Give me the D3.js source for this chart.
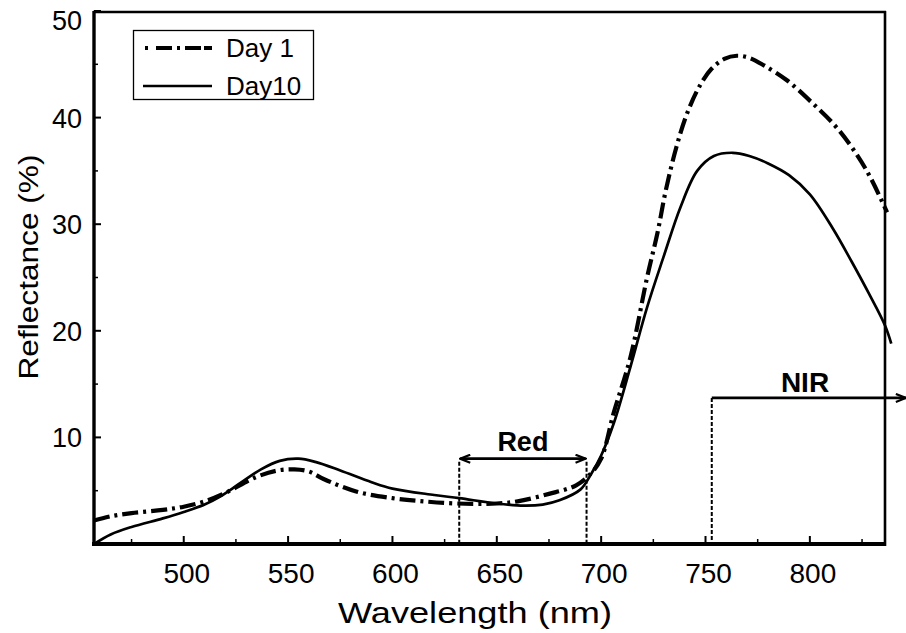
<!DOCTYPE html>
<html>
<head>
<meta charset="utf-8">
<script src="https://cdn.jsdelivr.net/npm/d3@7"></script>
<style>
  body { margin: 0; background: #fff; }
  text { font-family: "Liberation Sans", Arial, sans-serif; fill: #000; }
</style>
</head>
<body>
<svg id="chart" width="906" height="633"></svg>
<script>
// reflectance spectra: [wavelength nm, reflectance %]
const day1 = [
  [457, 2.2], [465, 2.6], [475, 2.9], [490, 3.2], [500, 3.5], [510, 4.0],
  [520, 4.8], [535, 6.3], [545, 6.9], [553, 7.0], [560, 6.8], [567, 6.1],
  [583, 4.9], [600, 4.3], [615, 4.0], [631, 3.8], [650, 3.8], [660, 4.0],
  [675, 4.7], [688, 5.5], [695, 6.6], [700, 8.0], [706, 12.3], [714, 17.5],
  [722, 25.0], [727, 29.2], [731, 33.2], [736, 37.2], [741, 40.3], [747, 42.9],
  [753, 44.6], [759, 45.5], [765, 45.8], [771, 45.6], [778, 44.9], [789, 43.5],
  [801, 41.4], [814, 38.8], [827, 35.1], [837, 31.1]
]
const day10 = [
  [457, 0.0], [465, 0.9], [475, 1.6], [490, 2.4], [500, 3.0], [510, 3.7],
  [517, 4.4], [527, 5.7], [537, 7.0], [546, 7.8], [555, 8.0], [563, 7.7],
  [575, 6.9], [590, 5.8], [600, 5.2], [620, 4.6], [632, 4.3], [650, 3.8],
  [663, 3.6], [672, 3.7], [680, 4.1], [690, 5.1], [695, 6.5], [700, 8.3],
  [706, 11.3], [714, 16.6], [722, 22.2], [730, 27.0], [738, 31.6], [746, 35.0],
  [754, 36.4], [763, 36.7], [771, 36.4], [780, 35.7], [790, 34.6], [800, 32.8],
  [811, 29.6], [820, 26.5], [828, 23.6], [836, 20.5], [839, 18.8]
]
const seriesNames = ['Day 1', 'Day10']
const xTicks = [500, 550, 600, 650, 700, 750, 800]
const xMinor = [475, 525, 575, 625, 675, 725, 775, 825]
const yTicks = [10, 20, 30, 40, 50]
const yMinor = [5, 15, 25, 35, 45]
// band markers
const redBand = [632, 693]
const redLevel = 8.0
const nirBand = [753, 846]
const nirLevel = 13.7

const svg = d3.select('#chart')
const x = d3.scaleLinear().domain([457, 836]).range([94, 885])
const y = d3.scaleLinear().domain([0, 50]).range([544, 11])

const line = d3.line()
  .x(d => x(d[0]))
  .y(d => y(d[1]))
  .curve(d3.curveCatmullRom.alpha(0.5))

// arrow markers
const defs = svg.append('defs')
defs.append('marker')
  .attr('id', 'arrow')
  .attr('viewBox', '0 0 12 10')
  .attr('refX', 11)
  .attr('refY', 5)
  .attr('markerWidth', 12)
  .attr('markerHeight', 10)
  .attr('markerUnits', 'userSpaceOnUse')
  .attr('orient', 'auto-start-reverse')
  .append('path')
  .attr('d', 'M1,1 L11,5 L1,9')
  .attr('fill', 'none')
  .attr('stroke', '#000')
  .attr('stroke-width', 2.2)

// curves
svg.append('path')
  .datum(day10)
  .attr('d', line)
  .attr('fill', 'none')
  .attr('stroke', '#000')
  .attr('stroke-width', 2.7)

svg.append('path')
  .datum(day1)
  .attr('d', line)
  .attr('fill', 'none')
  .attr('stroke', '#000')
  .attr('stroke-width', 4.2)
  .attr('stroke-dasharray', '16,5,3,5')

// Red band
redBand.forEach(w => {
  svg.append('line')
    .attr('x1', x(w)).attr('x2', x(w))
    .attr('y1', y(redLevel) + 3).attr('y2', y(0))
    .attr('stroke', '#000')
    .attr('stroke-width', 2)
    .attr('stroke-dasharray', '4,2')
})
svg.append('line')
  .attr('x1', x(redBand[0]) + 1).attr('x2', x(redBand[1]) - 1)
  .attr('y1', y(redLevel)).attr('y2', y(redLevel))
  .attr('stroke', '#000')
  .attr('stroke-width', 2.7)
  .attr('marker-start', 'url(#arrow)')
  .attr('marker-end', 'url(#arrow)')
svg.append('text')
  .attr('x', (x(redBand[0]) + x(redBand[1])) / 2)
  .attr('y', y(redLevel) - 8)
  .attr('text-anchor', 'middle')
  .attr('font-size', 27)
  .attr('font-weight', 'bold')
  .text('Red')

// NIR band
svg.append('line')
  .attr('x1', x(nirBand[0])).attr('x2', x(nirBand[0]))
  .attr('y1', y(nirLevel)).attr('y2', y(0))
  .attr('stroke', '#000')
  .attr('stroke-width', 2)
  .attr('stroke-dasharray', '4,2')
svg.append('line')
  .attr('x1', x(nirBand[0])).attr('x2', x(nirBand[1]))
  .attr('y1', y(nirLevel)).attr('y2', y(nirLevel))
  .attr('stroke', '#000')
  .attr('stroke-width', 2.7)
  .attr('marker-end', 'url(#arrow)')
svg.append('text')
  .attr('x', 805)
  .attr('y', y(nirLevel) - 6)
  .attr('text-anchor', 'middle')
  .attr('font-size', 28)
  .attr('font-weight', 'bold')
  .text('NIR')

// frame
svg.append('line').attr('x1', 94).attr('x2', 94).attr('y1', 11).attr('y2', 546)
  .attr('stroke', '#000').attr('stroke-width', 3.4)
svg.append('line').attr('x1', 92).attr('x2', 886).attr('y1', 544).attr('y2', 544)
  .attr('stroke', '#000').attr('stroke-width', 4)
svg.append('line').attr('x1', 93).attr('x2', 886).attr('y1', 12).attr('y2', 12)
  .attr('stroke', '#000').attr('stroke-width', 2.6)
svg.append('line').attr('x1', 885).attr('x2', 885).attr('y1', 11).attr('y2', 546)
  .attr('stroke', '#000').attr('stroke-width', 2.6)

// x axis ticks (inside) and labels
svg.selectAll('.xt').data(xTicks).enter().append('line')
  .attr('x1', d => x(d)).attr('x2', d => x(d))
  .attr('y1', 544).attr('y2', 536)
  .attr('stroke', '#000').attr('stroke-width', 2)
svg.selectAll('.xm').data(xMinor).enter().append('line')
  .attr('x1', d => x(d)).attr('x2', d => x(d))
  .attr('y1', 544).attr('y2', 539)
  .attr('stroke', '#000').attr('stroke-width', 1.5)
svg.selectAll('.xl').data(xTicks).enter().append('text')
  .attr('x', d => x(d) + 3)
  .attr('y', 583)
  .attr('text-anchor', 'middle')
  .attr('font-size', 28)
  .text(d => d)

// y axis ticks and labels
svg.selectAll('.yt').data(yTicks).enter().append('line')
  .attr('x1', 94).attr('x2', 101)
  .attr('y1', d => y(d)).attr('y2', d => y(d))
  .attr('stroke', '#000').attr('stroke-width', 2)
svg.selectAll('.ym').data(yMinor).enter().append('line')
  .attr('x1', 94).attr('x2', 98)
  .attr('y1', d => y(d)).attr('y2', d => y(d))
  .attr('stroke', '#000').attr('stroke-width', 1.5)
svg.selectAll('.yl').data(yTicks).enter().append('text')
  .attr('x', 82)
  .attr('y', d => d === 50 ? y(d) + 19 : y(d) + 10)
  .attr('text-anchor', 'end')
  .attr('font-size', 27)
  .text(d => d)

// axis titles
svg.append('text')
  .attr('x', 475)
  .attr('y', 623)
  .attr('text-anchor', 'middle')
  .attr('font-size', 30)
  .attr('textLength', 274)
  .attr('lengthAdjust', 'spacingAndGlyphs')
  .text('Wavelength (nm)')
svg.append('text')
  .attr('transform', 'translate(38,267) rotate(-90)')
  .attr('text-anchor', 'middle')
  .attr('font-size', 27)
  .attr('textLength', 225)
  .attr('lengthAdjust', 'spacingAndGlyphs')
  .text('Reflectance (%)')

// legend
const lg = svg.append('g')
lg.append('rect')
  .attr('x', 133.5).attr('y', 30.5)
  .attr('width', 180).attr('height', 69)
  .attr('fill', '#fff')
  .attr('stroke', '#000')
  .attr('stroke-width', 1.3)
const legendY = [48, 86]
seriesNames.forEach((name, i) => {
  lg.append('line')
    .attr('x1', i === 0 ? 145 : 143).attr('x2', 212)
    .attr('y1', legendY[i]).attr('y2', legendY[i])
    .attr('stroke', '#000')
    .attr('stroke-width', i === 0 ? 4.2 : 2.7)
    .attr('stroke-dasharray', i === 0 ? '3,8,16,5,3,5,16' : null)
  lg.append('text')
    .attr('x', 226)
    .attr('y', legendY[i] + 9)
    .attr('font-size', 26)
    .text(name)
})
</script>
</body>
</html>
